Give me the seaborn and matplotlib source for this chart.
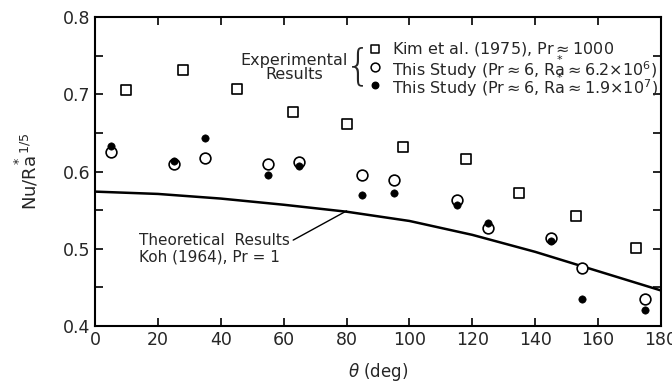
import matplotlib
matplotlib.use("Agg")
import matplotlib.pyplot as plt
import seaborn as sns
import pandas as pd
from matplotlib.ticker import MultipleLocator

# Data
kim_theta = [10, 28, 45, 63, 80, 98, 118, 135, 153, 172]
kim_nu = [0.705, 0.731, 0.707, 0.677, 0.661, 0.632, 0.616, 0.572, 0.542, 0.501]

study_theta = [5, 25, 35, 55, 65, 85, 95, 115, 125, 145, 155, 175]
open_nu = [0.625, 0.610, 0.617, 0.610, 0.612, 0.595, 0.589, 0.563, 0.527, 0.514, 0.475, 0.435]
filled_nu = [0.633, 0.614, 0.643, 0.595, 0.607, 0.569, 0.572, 0.557, 0.534, 0.510, 0.435, 0.421]

theory_theta = [0, 20, 40, 60, 80, 100, 120, 140, 160, 180]
theory_nu = [0.574, 0.571, 0.565, 0.557, 0.548, 0.536, 0.518, 0.496, 0.471, 0.446]

sns.set_style("ticks")
plt.rcParams['font.family'] = ['DejaVu Sans']
plt.rcParams['mathtext.fontset'] = 'dejavusans'

fig = plt.figure(figsize=(6.72, 3.88), dpi=100)
ax = fig.add_axes([0.1414, 0.1598, 0.8422, 0.7962])

kim = pd.DataFrame({"theta": kim_theta, "nu": kim_nu})
st = pd.DataFrame({"theta": study_theta, "open": open_nu, "filled": filled_nu})
th = pd.DataFrame({"theta": theory_theta, "nu": theory_nu})

sns.lineplot(data=th, x="theta", y="nu", ax=ax, color="black", lw=1.8)
sns.scatterplot(data=kim, x="theta", y="nu", ax=ax, marker="s", s=60,
                facecolor="white", edgecolor="black", linewidth=1.2, zorder=3)
sns.scatterplot(data=st, x="theta", y="open", ax=ax, marker="o", s=60,
                facecolor="white", edgecolor="black", linewidth=1.2, zorder=3)
sns.scatterplot(data=st, x="theta", y="filled", ax=ax, marker="o", s=28,
                color="black", edgecolor="black", zorder=4)

ax.set_xlim(0, 180)
ax.set_ylim(0.4, 0.8)
ax.set_xticks(range(0, 181, 20))
ax.set_yticks([0.4, 0.5, 0.6, 0.7, 0.8])
ax.set_yticklabels(["0.4", "0.5", "0.6", "0.7", "0.8"])
ax.yaxis.set_minor_locator(MultipleLocator(0.05))
ax.tick_params(which="both", direction="in", top=True, right=True, width=1.2,
               labelsize=12.5, color="black", length=6)
for sp in ax.spines.values():
    sp.set_linewidth(1.5)
    sp.set_color("black")

ax.set_xlabel(r"$\theta$ (deg)", fontsize=12, labelpad=9)
ax.set_ylabel(r"Nu/R$\overset{*}{\mathrm{a}}^{\,1/5}$", fontsize=13, labelpad=16)

# Legend (manual, as in the figure)
ax.text(80.3, 0.735, "Experimental\nResults", ha="right", va="center",
        fontsize=11.5, linespacing=0.9, multialignment="center")
ax.text(83.6, 0.736, "{", ha="center", va="center", fontsize=30,
        fontweight="ultralight")
leg_y = [0.759, 0.735, 0.712]
ax.scatter([89], [leg_y[0]], marker="s", s=40, facecolor="white", edgecolor="black", lw=1.1)
ax.scatter([89], [leg_y[1]], marker="o", s=40, facecolor="white", edgecolor="black", lw=1.1)
ax.scatter([89], [leg_y[2]], marker="o", s=22, color="black")
ax.text(94.5, leg_y[0], r"Kim et al. (1975), Pr$\approx$1000", va="center", fontsize=11.5)
ax.text(94.5, leg_y[1], r"This Study (Pr$\approx$6, R$\overset{*}{\mathrm{a}}$$\approx$6.2$\times$10$^{6}$)",
        va="center", fontsize=11.5)
ax.text(94.5, leg_y[2], r"This Study (Pr$\approx$6, R$\overset{*}{\mathrm{a}}$$\approx$1.9$\times$10$^{7}$)",
        va="center", fontsize=11.5)

# Theory annotation
ax.annotate("Theoretical  Results\nKoh (1964), Pr = 1", xy=(80, 0.549), xytext=(14, 0.500),
            fontsize=11, va="center", ha="left", linespacing=1.1,
            arrowprops=dict(arrowstyle="-", color="black", lw=1.0,
                            shrinkA=0, shrinkB=0, relpos=(1.0, 0.72)))

fig.savefig("out.png", dpi=100)
